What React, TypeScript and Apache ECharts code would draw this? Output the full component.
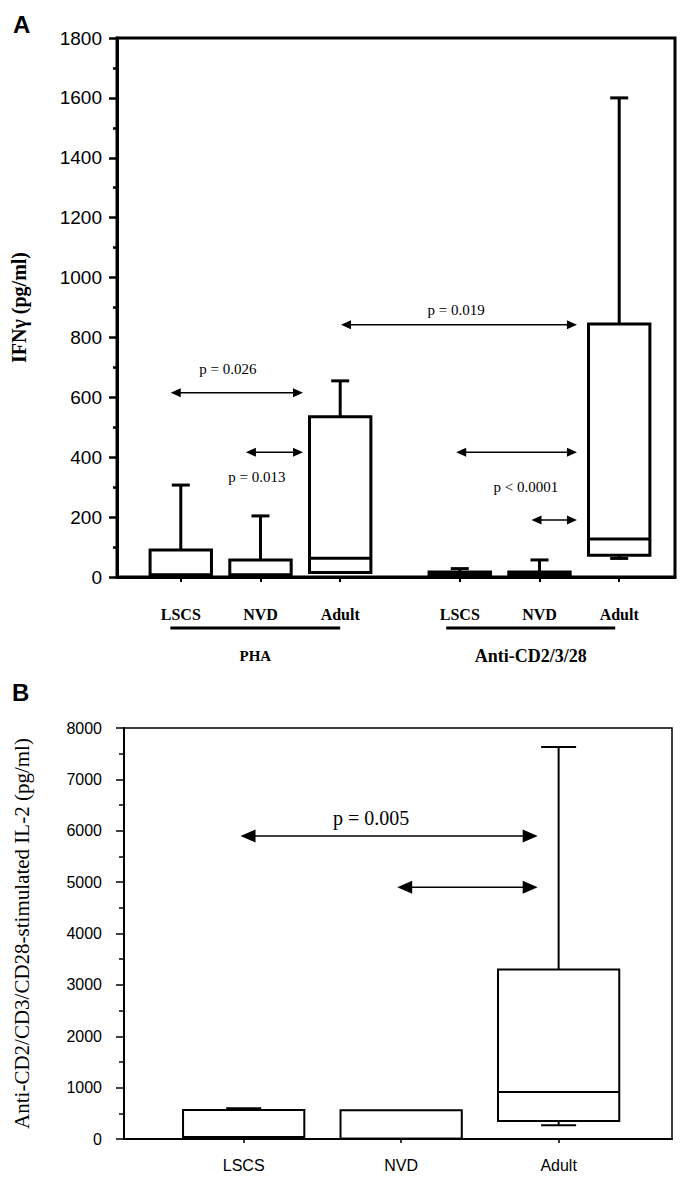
import React, { useEffect, useRef } from "react";
import * as echarts from "echarts";

// ---------- Panel A data (IFNγ, pg/ml) ----------
const panelACategories = ["LSCS", "NVD", "Adult", "LSCS", "NVD", "Adult"];
const panelAPositions = [1, 2, 3, 4.5, 5.5, 6.5];
const panelAGroups = ["PHA", "Anti-CD2/3/28"];
const panelAGroupFrom = [0.87, 4.33];
const panelAGroupTo = [3.0, 6.45];
const panelALow = [7, 7, 15, 3, 3, 62];
const panelAQ1 = [7, 7, 15, 3, 3, 73];
const panelAMedian = [7, 7, 63, 8, 8, 127];
const panelAQ3 = [90, 57, 535, 17, 17, 845];
const panelAHigh = [307, 204, 655, 28, 57, 1600];
const panelAArrowFrom = [0.874, 1.817, 3.01, 4.455, 5.4];
const panelAArrowTo = [2.533, 2.533, 5.97, 5.97, 5.97];
const panelAArrowAt = [615, 417, 842, 417, 190];
const panelAPText = ["p = 0.026", "p = 0.013", "p = 0.019", "p < 0.0001"];
const panelAPTextX = [1.59, 1.955, 4.455, 5.33];
const panelAPTextY = [695, 334, 892, 300];

// ---------- Panel B data (IL-2, pg/ml) ----------
const panelBCategories = ["LSCS", "NVD", "Adult"];
const panelBPositions = [1, 2, 3];
const panelBLow = [10, 5, 270];
const panelBQ1 = [10, 5, 350];
const panelBMedian = [40, 5, 915];
const panelBQ3 = [565, 560, 3300];
const panelBHigh = [600, 560, 7630];
const panelBArrowFrom = [0.98, 1.975];
const panelBArrowTo = [2.867, 2.867];
const panelBArrowAt = [5900, 4900];
const panelBPText = ["p = 0.005"];
const panelBPTextX = [1.81];
const panelBPTextY = [6250];

const SERIF = "Liberation Serif";
const SANS = "Liberation Sans";

const makeBoxRender =
  (boxW: number, capW: number, lw: number) => (params: any, api: any) => {
    const x = api.value(0);
    const pLow = api.coord([x, api.value(1)]);
    const yQ1 = api.coord([x, api.value(2)])[1];
    const yMed = api.coord([x, api.value(3)])[1];
    const yQ3 = api.coord([x, api.value(4)])[1];
    const yHigh = api.coord([x, api.value(5)])[1];
    const cx = pLow[0];
    const yLow = pLow[1];
    const w = api.size([boxW, 0])[0];
    const st = { stroke: "#000", lineWidth: lw };
    const children: any[] = [];
    if (yHigh < yQ3 - 0.5) {
      children.push({ type: "line", shape: { x1: cx, y1: yQ3, x2: cx, y2: yHigh }, style: st });
      children.push({ type: "line", shape: { x1: cx - capW / 2, y1: yHigh, x2: cx + capW / 2, y2: yHigh }, style: st });
    }
    if (yLow > yQ1 + 0.5) {
      children.push({ type: "line", shape: { x1: cx, y1: yQ1, x2: cx, y2: yLow }, style: st });
      children.push({ type: "line", shape: { x1: cx - capW / 2, y1: yLow, x2: cx + capW / 2, y2: yLow }, style: st });
    }
    children.push({
      type: "rect",
      shape: { x: cx - w / 2, y: yQ3, width: w, height: Math.max(yQ1 - yQ3, 0.1) },
      style: { fill: "#fff", stroke: "#000", lineWidth: lw },
    });
    children.push({ type: "line", shape: { x1: cx - w / 2, y1: yMed, x2: cx + w / 2, y2: yMed }, style: st });
    return { type: "group", children };
  };

const makeArrowRender =
  (head: number, half: number, lw: number) => (params: any, api: any) => {
    const y = api.value(2);
    const p1 = api.coord([api.value(0), y]);
    const p2 = api.coord([api.value(1), y]);
    return {
      type: "group",
      children: [
        { type: "line", shape: { x1: p1[0] + head * 0.5, y1: p1[1], x2: p2[0] - head * 0.5, y2: p2[1] }, style: { stroke: "#000", lineWidth: lw } },
        { type: "polygon", shape: { points: [[p1[0], p1[1]], [p1[0] + head, p1[1] - half], [p1[0] + head, p1[1] + half]] }, style: { fill: "#000" } },
        { type: "polygon", shape: { points: [[p2[0], p2[1]], [p2[0] - head, p2[1] - half], [p2[0] - head, p2[1] + half]] }, style: { fill: "#000" } },
      ],
    };
  };

const makeTextRender = (labels: string[], size: number) => (params: any, api: any) => {
  const p = api.coord([api.value(0), api.value(1)]);
  return {
    type: "text",
    x: p[0],
    y: p[1],
    style: {
      text: labels[params.dataIndex],
      fontSize: size,
      fontFamily: SERIF,
      fill: "#000",
      align: "center",
      verticalAlign: "middle",
    },
  };
};

const plain = (v: number) => String(v);

export default function App() {
  const ref = useRef<HTMLDivElement>(null);

  useEffect(() => {
    if (!ref.current) return;
    const chart = echarts.init(ref.current, null, { renderer: "svg" });

    const option: any = {
      animation: false,
      backgroundColor: "#fff",
      grid: [
        { left: 117, top: 38, width: 558, height: 539, show: true, borderColor: "#000", borderWidth: 3, backgroundColor: "transparent" },
        { left: 124, top: 728, width: 548, height: 411, show: true, borderColor: "#000", borderWidth: 1.5, backgroundColor: "transparent" },
      ],
      xAxis: [
        {
          type: "value",
          gridIndex: 0,
          min: 0.2,
          max: 7.2,
          splitLine: { show: false },
          axisLine: { onZero: false, lineStyle: { color: "#000", width: 3 } },
          axisTick: { customValues: panelAPositions, length: 5, lineStyle: { color: "#000", width: 2 } },
          axisLabel: {
            customValues: panelAPositions,
            formatter: (v: number) => panelACategories[panelAPositions.indexOf(v)] ?? "",
            margin: 29,
            fontFamily: SERIF,
            fontWeight: "bold",
            fontSize: 16,
            color: "#000",
          },
        },
        {
          type: "value",
          gridIndex: 1,
          min: 0.24,
          max: 3.72,
          splitLine: { show: false },
          axisLine: { onZero: false, lineStyle: { color: "#000", width: 2 } },
          axisTick: { customValues: panelBPositions, length: 4, lineStyle: { color: "#000", width: 1.5 } },
          axisLabel: {
            customValues: panelBPositions,
            formatter: (v: number) => panelBCategories[panelBPositions.indexOf(v)] ?? "",
            margin: 18,
            fontFamily: SANS,
            fontSize: 16,
            color: "#000",
          },
        },
      ],
      yAxis: [
        {
          type: "value",
          gridIndex: 0,
          min: 0,
          max: 1800,
          interval: 200,
          splitLine: { show: false },
          axisLine: { lineStyle: { color: "#000", width: 3 } },
          axisTick: { length: 8, lineStyle: { color: "#000", width: 2.5 } },
          minorTick: { show: true, splitNumber: 2, length: 4, lineStyle: { color: "#000", width: 2.5 } },
          axisLabel: { margin: 15, fontFamily: SANS, fontSize: 19, color: "#000", formatter: plain },
          name: "IFNγ (pg/ml)",
          nameLocation: "middle",
          nameRotate: 90,
          nameGap: 88,
          nameTextStyle: { fontFamily: SERIF, fontWeight: "bold", fontSize: 20, color: "#000" },
        },
        {
          type: "value",
          gridIndex: 1,
          min: 0,
          max: 8000,
          interval: 1000,
          splitLine: { show: false },
          axisLine: { lineStyle: { color: "#000", width: 2 } },
          axisTick: { length: 8, lineStyle: { color: "#000", width: 1.5 } },
          minorTick: { show: true, splitNumber: 2, length: 5, lineStyle: { color: "#000", width: 1.5 } },
          axisLabel: { margin: 22, fontFamily: SANS, fontSize: 16, color: "#000", formatter: plain },
          name: "Anti-CD2/CD3/CD28-stimulated IL-2 (pg/ml)",
          nameLocation: "middle",
          nameRotate: 90,
          nameGap: 92,
          nameTextStyle: { fontFamily: SERIF, fontSize: 21, color: "#000" },
        },
      ],
      series: [
        {
          type: "custom",
          name: "IFNγ boxes",
          xAxisIndex: 0,
          yAxisIndex: 0,
          clip: false,
          silent: true,
          renderItem: makeBoxRender(0.77, 18, 3),
          encode: { x: 0, y: [1, 2, 3, 4, 5] },
          data: panelAPositions.map((p, i) => [p, panelALow[i], panelAQ1[i], panelAMedian[i], panelAQ3[i], panelAHigh[i]]),
        },
        {
          type: "custom",
          name: "IFNγ arrows",
          xAxisIndex: 0,
          yAxisIndex: 0,
          clip: false,
          silent: true,
          renderItem: makeArrowRender(10, 4.5, 1.5),
          encode: { x: [0, 1], y: 2 },
          data: panelAArrowFrom.map((f, i) => [f, panelAArrowTo[i], panelAArrowAt[i]]),
        },
        {
          type: "custom",
          name: "IFNγ p",
          xAxisIndex: 0,
          yAxisIndex: 0,
          clip: false,
          silent: true,
          renderItem: makeTextRender(panelAPText, 15),
          encode: { x: 0, y: 1 },
          data: panelAPTextX.map((x, i) => [x, panelAPTextY[i]]),
        },
        {
          type: "custom",
          name: "IL-2 boxes",
          xAxisIndex: 1,
          yAxisIndex: 1,
          clip: false,
          silent: true,
          renderItem: makeBoxRender(0.77, 35, 2),
          encode: { x: 0, y: [1, 2, 3, 4, 5] },
          data: panelBPositions.map((p, i) => [p, panelBLow[i], panelBQ1[i], panelBMedian[i], panelBQ3[i], panelBHigh[i]]),
        },
        {
          type: "custom",
          name: "IL-2 arrows",
          xAxisIndex: 1,
          yAxisIndex: 1,
          clip: false,
          silent: true,
          renderItem: makeArrowRender(15, 6.5, 1.5),
          encode: { x: [0, 1], y: 2 },
          data: panelBArrowFrom.map((f, i) => [f, panelBArrowTo[i], panelBArrowAt[i]]),
        },
        {
          type: "custom",
          name: "IL-2 p",
          xAxisIndex: 1,
          yAxisIndex: 1,
          clip: false,
          silent: true,
          renderItem: makeTextRender(panelBPText, 20),
          encode: { x: 0, y: 1 },
          data: panelBPTextX.map((x, i) => [x, panelBPTextY[i]]),
        },
      ],
    };

    chart.setOption(option);

    // group underlines and labels beneath panel A, positioned through the axis scale
    const graphics: any[] = [
      { type: "text", left: 13, top: 12, style: { text: "A", fontFamily: SANS, fontWeight: "bold", fontSize: 24, fill: "#000" } },
      { type: "text", left: 12, top: 680, style: { text: "B", fontFamily: SANS, fontWeight: "bold", fontSize: 24, fill: "#000" } },
    ];
    const groupFont = [15, 18];
    panelAGroups.forEach((g, i) => {
      const a = chart.convertToPixel({ gridIndex: 0 } as any, [panelAGroupFrom[i], 0]) as number[];
      const b = chart.convertToPixel({ gridIndex: 0 } as any, [panelAGroupTo[i], 0]) as number[];
      if (!a || !b) return;
      const yLine = a[1] + 51;
      graphics.push({
        type: "line",
        shape: { x1: a[0], y1: yLine, x2: b[0], y2: yLine },
        style: { stroke: "#000", lineWidth: 3 },
      });
      graphics.push({
        type: "text",
        x: (a[0] + b[0]) / 2,
        y: a[1] + 79,
        style: {
          text: g,
          fontFamily: SERIF,
          fontWeight: "bold",
          fontSize: groupFont[i],
          fill: "#000",
          align: "center",
          verticalAlign: "middle",
        },
      });
    });
    chart.setOption({ graphic: graphics });

    return () => chart.dispose();
  }, []);

  return (
    <div
      ref={ref}
      style={{ position: "absolute", left: 0, top: 0, width: 685, height: 1182, background: "#fff" }}
    />
  );
}
